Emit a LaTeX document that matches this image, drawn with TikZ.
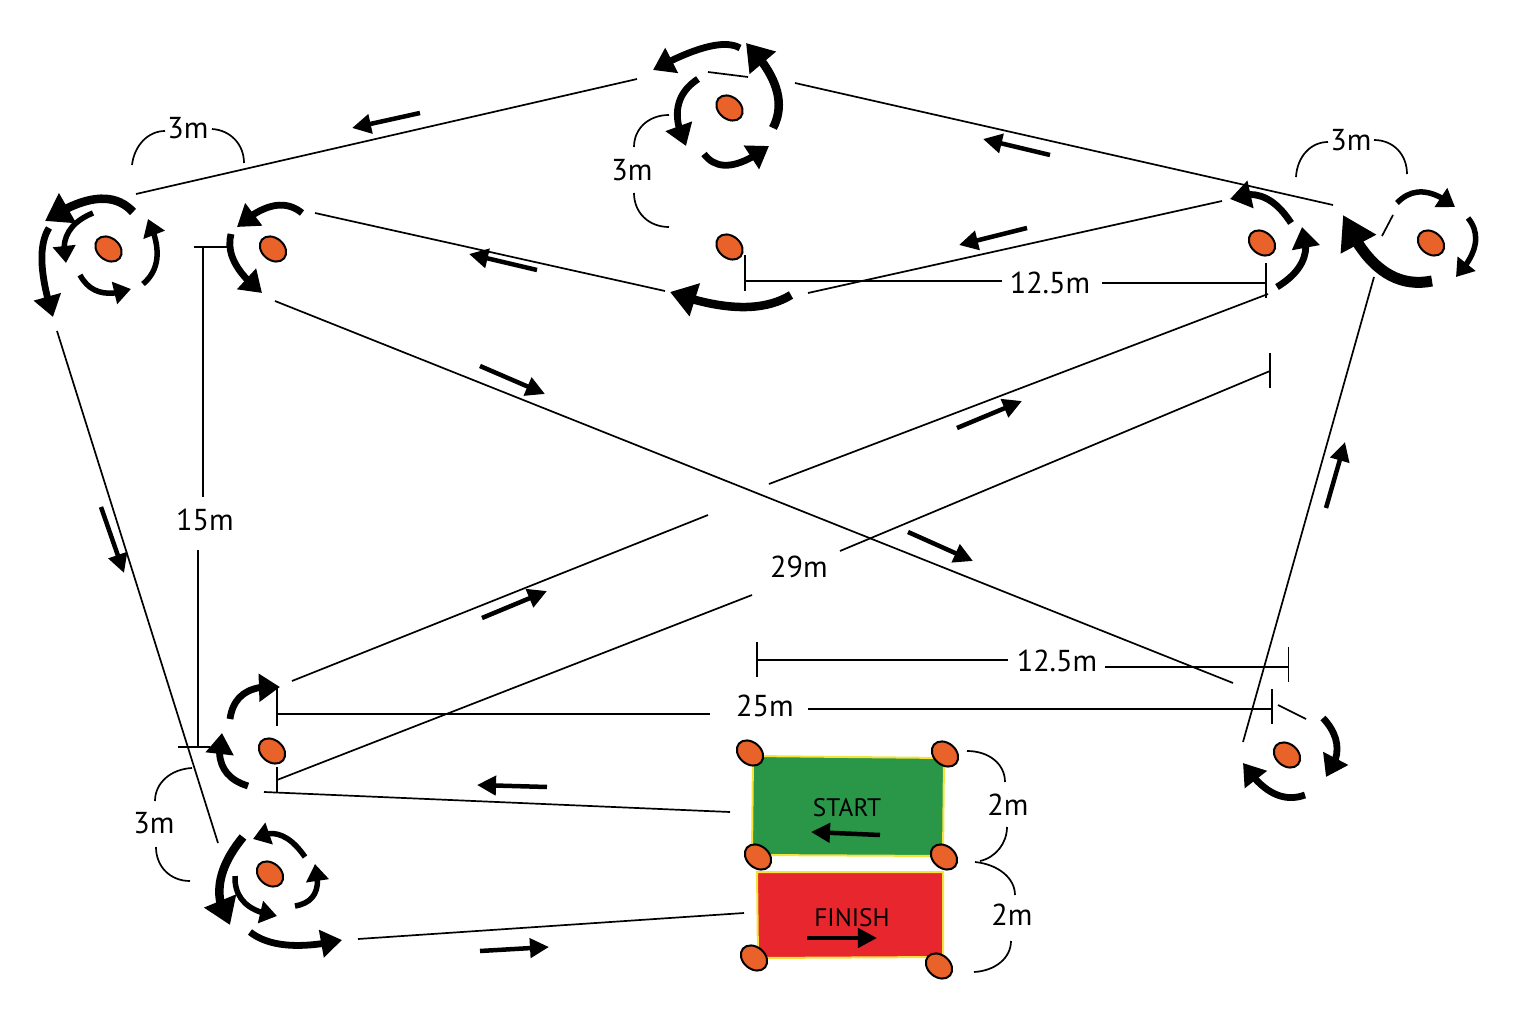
\documentclass[tikz,border=0pt]{standalone}
\usepackage{fontspec}
\setmainfont{PT Sans}
\usetikzlibrary{arrows.meta}
\usetikzlibrary{bending}
\usetikzlibrary{calc}
\usetikzlibrary{shapes.geometric}
\definecolor{coneorange}{HTML}{E8622A}
\definecolor{startgreen}{HTML}{2A9648}
\definecolor{finishred}{HTML}{E7262D}
\definecolor{tapeyellow}{HTML}{F5E33C}
\tikzset{
	plain/.style={line width=0.017cm},
	conemark/.style={ellipse, draw, fill=coneorange, line width=0.02cm, inner sep=0pt, minimum width=0.29cm, minimum height=0.22cm, rotate=-40},
	distlabel/.style={font=\fontsize{8.6}{10}\selectfont, inner sep=0pt},
	zonelabel/.style={font=\fontsize{7.2}{9}\selectfont, inner sep=0pt},
	runarrow/.style={line width=0.045cm, -{Triangle[length=0.19cm,width=0.19cm]}},
	smallturn/.style={line width=0.055cm, -{Triangle[length=0.17cm,width=0.22cm]}},
	medturn/.style={line width=0.068cm, -{Triangle[length=0.21cm,width=0.27cm]}},
	bigturn/.style={line width=0.085cm, -{Triangle[length=0.26cm,width=0.33cm]}},
	hugeturn/.style={line width=0.11cm, -{Triangle[length=0.33cm,width=0.38cm]}}
}
\newcommand{\cone}[3] % name, x, y
{
	\node[conemark] (#1) at (#2,#3) {};
}
\newcommand{\turn}[4] % style, start, point on the curve, tip
{
	\coordinate (q) at ($(#3)!-1!($(#2)!0.5!(#4)$)$);
	\draw[#1] (#2) .. controls ($(#2)!0.6667!(q)$) and ($(#4)!0.6667!(q)$) .. (#4);
}
\newcommand{\curl}[3] % start, corner, end
{
	\draw[plain] (#1) .. controls ($(#1)!0.58!(#2)$) and ($(#3)!0.58!(#2)$) .. (#3);
}
\begin{document}
\begin{tikzpicture}[x=0.01cm, y=-0.01cm]
	\useasboundingbox (0,0) rectangle (1514,1027);
	% start and finish zones
	\fill[startgreen] (753,756) -- (944,758) -- (943,856) -- (752,855) -- cycle;
	\draw[tapeyellow, line width=0.02cm] (753,756) -- (944,758) -- (943,856) -- (752,855) -- cycle;
	\fill[finishred] (757,872) -- (943,872) -- (943,957) -- (758,958) -- cycle;
	\draw[tapeyellow, line width=0.02cm] (757,872) -- (943,872) -- (943,957) -- (758,958) -- cycle;
	\node[zonelabel] (startlabel) at (847,808) {START};
	\node[zonelabel] (finishlabel) at (852,918) {FINISH};
	\draw[runarrow] (880,835) -- (811,832);
	\draw[runarrow] (807,938) -- (877,938);
	% cones
	\cone{coneA}{108.5}{249}
	\cone{coneB}{273}{249}
	\cone{coneC}{729.5}{108}
	\cone{coneD}{729.5}{247}
	\cone{coneE}{1262}{243}
	\cone{coneF}{1431}{243}
	\cone{coneG}{272}{751}
	\cone{coneH}{270}{874}
	\cone{coneI}{1287}{755}
	\cone{zoneA}{750}{753}
	\cone{zoneB}{945}{754}
	\cone{zoneC}{758}{857}
	\cone{zoneD}{944}{857}
	\cone{zoneE}{754}{958}
	\cone{zoneF}{939}{966}
	% run lines
	\draw[plain] (136,194) -- (637,79);
	\draw[plain] (795,83) -- (1333,205);
	\draw[plain] (57,331) -- (218,843);
	\draw[plain] (315,213) -- (665,291);
	\draw[plain] (808,293) -- (1222,201);
	\draw[plain] (275,301) -- (1233,683);
	\draw[plain] (769,484) -- (1268,294);
	\draw[plain] (292,681) -- (708,515);
	\draw[plain] (840,551) -- (1270,371);
	\draw[plain] (277,780) -- (752,595);
	\draw[plain] (264,792) -- (730,812);
	\draw[plain] (358,939) -- (744,913);
	\draw[plain] (1243,742) -- (1374,277);
	% short pieces near the cones
	\draw[plain] (708,72) -- (748,77);
	\draw[plain] (1393,215) -- (1382,236);
	\draw[plain] (1278,705) -- (1306,719);
	% direction arrows
	\draw[runarrow] (420,113) -- (352,128);
	\draw[runarrow] (1050,155) -- (983,139);
	\draw[runarrow] (537,270) -- (469,254);
	\draw[runarrow] (1027,228) -- (959,245);
	\draw[runarrow] (480,366) -- (545,394);
	\draw[runarrow] (957,428) -- (1022,401);
	\draw[runarrow] (908,532) -- (973,561);
	\draw[runarrow] (482,618) -- (547,591);
	\draw[runarrow] (1326,508) -- (1345,442);
	\draw[runarrow] (101,507) -- (124,573);
	\draw[runarrow] (547,787) -- (477,785);
	\draw[runarrow] (480,951) -- (549,947);
	% turns round cone A
	\turn{bigturn}{133,212}{97,199}{45,221}
	\turn{medturn}{49,228}{42,263}{53,317}
	\turn{smallturn}{93,213}{68,233}{66,263}
	\turn{smallturn}{80,275}{100,292}{131,289}
	\turn{smallturn}{143,284}{157,257}{148,219}
	% turns round cone B
	\turn{medturn}{302,213}{273,206}{237,227}
	\turn{medturn}{231,234}{235,263}{262,293}
	% turns round cone C
	\turn{medturn}{740,48}{707,47}{653,70}
	\turn{bigturn}{773,128}{776,88}{746,43}
	\turn{medturn}{698,79}{678,107}{686,146}
	\turn{medturn}{704,154}{730,165}{769,146}
	% turn at cone D
	\turn{bigturn}{791,295}{740,307}{670,292}
	% turns round cone E
	\turn{medturn}{1291,223}{1263,197}{1230,199}
	\turn{medturn}{1277,287}{1303,260}{1302,227}
	% turns round cone F
	\turn{smallturn}{1397,203}{1423,192}{1455,207}
	\turn{smallturn}{1468,218}{1475,245}{1456,277}
	\turn{hugeturn}{1432,281}{1382,270}{1343,215}
	% turns round cone G
	\turn{medturn}{230,719}{245,693}{280,687}
	\turn{medturn}{248,786}{223,767}{222,733}
	% turns round cone H
	\turn{bigturn}{243,837}{220,883}{230,925}
	\turn{smallturn}{235,876}{245,903}{277,916}
	\turn{smallturn}{305,857}{280,835}{253,839}
	\turn{smallturn}{295,906}{315,893}{315,864}
	\turn{medturn}{250,932}{287,945}{342,940}
	% turns round cone I
	\turn{medturn}{1323,718}{1337,747}{1326,777}
	\turn{medturn}{1305,795}{1273,793}{1243,763}
	% 15m
	\draw[plain] (194,247) -- (228,247);
	\draw[plain] (203,247) -- (203,497);
	\draw[plain] (198,550) -- (198,747);
	\draw[plain] (178,747) -- (210,747);
	\node[distlabel] (dimA) at (205,520) {15m};
	% 12.5m top
	\draw[plain] (745,255) -- (745,291);
	\draw[plain] (745,281) -- (1002,281);
	\draw[plain] (1102,283) -- (1266,283);
	\draw[plain] (1266,263) -- (1266,298);
	\node[distlabel] (dimB) at (1050,283) {12.5m};
	% 12.5m bottom
	\draw[plain] (757,642) -- (757,677);
	\draw[plain] (757,660) -- (1008,660);
	\draw[plain] (1105,667) -- (1288.5,667);
	\draw[plain] (1288.5,647) -- (1288.5,682);
	\node[distlabel] (dimC) at (1057,661) {12.5m};
	% 25m
	\draw[plain] (277,688) -- (277,726);
	\draw[plain] (277,714) -- (710,714);
	\draw[plain] (808,709) -- (1272,709);
	\draw[plain] (1272,689) -- (1272,724);
	\node[distlabel] (dimD) at (765,706) {25m};
	% 29m
	\draw[plain] (277,767) -- (277,793);
	\draw[plain] (1270,353) -- (1270,388);
	\node[distlabel] (dimE) at (799,567) {29m};
	% 3m and 2m curls
	\node[distlabel] (gapA) at (188,128) {3m};
	\curl{132,165}{136,131}{165,131}
	\curl{212,129}{244,131}{244,163}
	\node[distlabel] (gapB) at (632,170) {3m};
	\curl{669,115}{634,115}{634,147}
	\curl{634,193}{634,227}{669,227}
	\node[distlabel] (gapC) at (1351,140) {3m};
	\curl{1296,177}{1298,142}{1328,142}
	\curl{1374,140}{1407,140}{1407,174}
	\node[distlabel] (gapD) at (154,823) {3m};
	\curl{192,768}{155,770}{155,801}
	\curl{156,847}{156,881}{190,881}
	\node[distlabel] (gapE) at (1008,805) {2m};
	\curl{967,751}{1005,751}{1005,782}
	\curl{1007,827}{1007,855}{980,861}
	\node[distlabel] (gapF) at (1012,915) {2m};
	\curl{975,862}{1015,866}{1015,895}
	\curl{1011,941}{1011,970}{974,972}
\end{tikzpicture}
\end{document}
